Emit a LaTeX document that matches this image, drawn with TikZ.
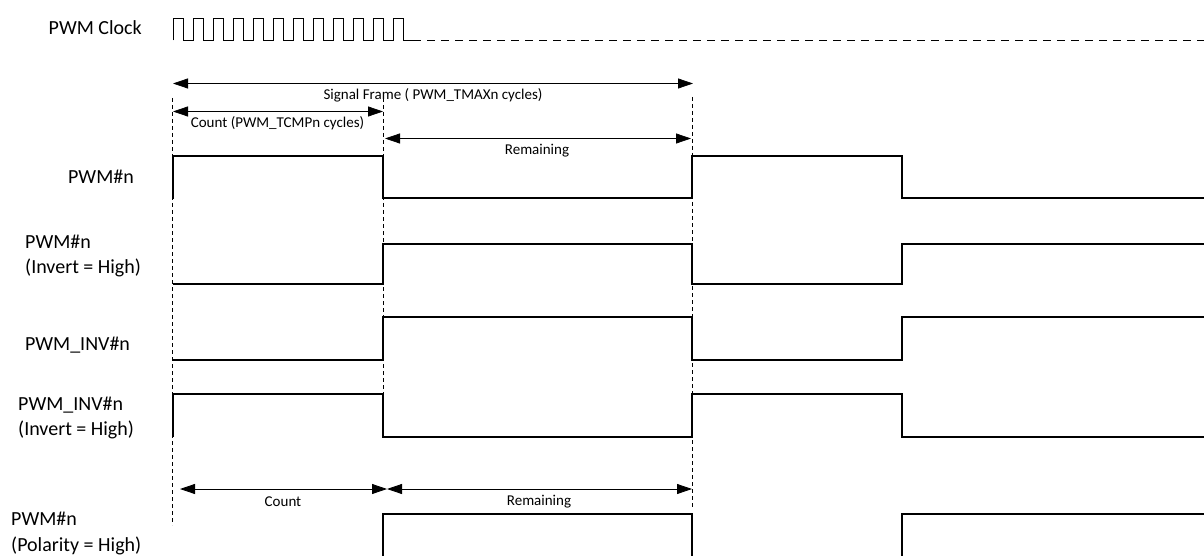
\documentclass[tikz,border=0pt]{standalone}
\usepackage{fontspec}
\setmainfont{Carlito}
\usetikzlibrary{arrows.meta}
\begin{document}
\begin{tikzpicture}[x=1pt,y=-1pt,
  sig/.style={line width=2pt, line join=miter},
  clk/.style={line width=0.9pt},
  guide/.style={line width=0.7pt, dash pattern=on 4pt off 3pt},
  dimarrow/.style={line width=0.8pt, {Triangle[length=15pt,width=10pt]}-{Triangle[length=15pt,width=10pt]}},
  lbl/.style={font=\fontsize{20}{24}\selectfont, inner sep=0pt},
  dimlbl/.style={font=\fontsize{15}{18}\selectfont, inner sep=0pt}]
\useasboundingbox (0,0) rectangle (1204,556);

% ---- clock ----
\draw[clk] (173,40.5) \foreach \k in {0,...,11} { -- ++(0,-22) -- ++(10,0) -- ++(0,22) -- ++(10,0) };
\draw[clk, dash pattern=on 8pt off 6pt] (413,40.5) -- (1204,40.5);
\node[lbl, anchor=base east] (clklbl) at (142,34.5) {PWM Clock};

% ---- guide lines ----
\coordinate (gA1) at (172.5,98); \coordinate (gA2) at (172.5,525);
\coordinate (gB1) at (383,98);   \coordinate (gB2) at (383,394);
\coordinate (gC1) at (692,97);   \coordinate (gC2) at (692,507);
\draw[guide] (gA1) -- (gA2);
\draw[guide] (gB1) -- (gB2);
\draw[guide] (gC1) -- (gC2);

% ---- dimension arrows ----
\coordinate (sfL) at (173,83.5); \coordinate (sfR) at (693,83.5);
\coordinate (ctL) at (173,111.5); \coordinate (ctR) at (383,111.5);
\coordinate (rmL) at (385,138.5); \coordinate (rmR) at (691,138.5);
\coordinate (bcL) at (180,489); \coordinate (bcR) at (387,489);
\coordinate (brL) at (387,489); \coordinate (brR) at (692,489);
\draw[dimarrow] (sfL) -- (sfR);
\draw[dimarrow] (ctL) -- (ctR);
\draw[dimarrow] (rmL) -- (rmR);
\draw[dimarrow] (bcL) -- (bcR);
\draw[dimarrow] (brL) -- (brR);
\node[dimlbl] (sft) at (433,95.5) {Signal Frame ( PWM\_TMAXn cycles)};
\node[dimlbl] (ctt) at (277.5,123.5) {Count (PWM\_TCMPn cycles)};
\node[dimlbl] (rmt) at (537,151) {Remaining};
\node[dimlbl] (bct) at (283,501.5) {Count};
\node[dimlbl] (brt) at (539,501.5) {Remaining};

% ---- signals ----
\draw[sig] (173,199) -- (173,156) -- (383,156) -- (383,198) -- (692,198) -- (692,156) -- (902,156) -- (902,198) -- (1204,198);
\draw[sig] (173,284) -- (383,284) -- (383,243.5) -- (692,243.5) -- (692,284) -- (902,284) -- (902,243.5) -- (1204,243.5);
\draw[sig] (173,360) -- (383,360) -- (383,317) -- (692,317) -- (692,360) -- (902,360) -- (902,317) -- (1204,317);
\draw[sig] (173,437) -- (173,394) -- (383,394) -- (383,437) -- (692,437) -- (692,394) -- (902,394) -- (902,437) -- (1204,437);
\draw[sig] (383,562) -- (383,514) -- (692,514) -- (692,562);
\draw[sig] (902,562) -- (902,514) -- (1204,514);

% ---- labels ----
\node[lbl, anchor=base] (l1) at (101,183.5) {PWM\#n};
\node[lbl, anchor=base west] (l2a) at (25,248) {PWM\#n};
\node[lbl, anchor=base west] (l2b) at (25,273.5) {(Invert = High)};
\node[lbl, anchor=base] (l3) at (77.5,350.5) {PWM\_INV\#n};
\node[lbl, anchor=base west] (l4a) at (18,410.5) {PWM\_INV\#n};
\node[lbl, anchor=base west] (l4b) at (18,435) {(Invert = High)};
\node[lbl, anchor=base west] (l5a) at (11,525) {PWM\#n};
\node[lbl, anchor=base west] (l5b) at (11,551) {(Polarity = High)};
\end{tikzpicture}
\end{document}
